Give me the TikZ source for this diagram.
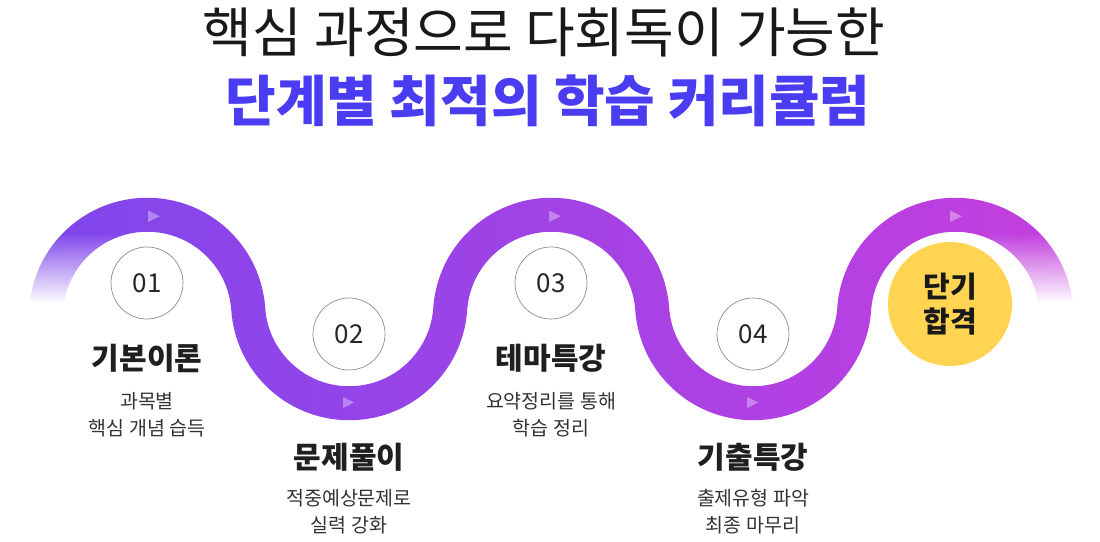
\documentclass[tikz,border=0pt]{standalone}
\usepackage{fontspec}
\setmainfont{Noto Sans CJK KR}
\usetikzlibrary{fadings}
\definecolor{rleft}{HTML}{7E47EC}
\definecolor{rmid}{HTML}{A64FE8}
\definecolor{rright}{HTML}{C53EDE}
\definecolor{titleblue}{HTML}{4A3CF0}
\definecolor{goalyellow}{HTML}{FFD452}
\definecolor{subgray}{HTML}{333333}
\tikzset{
  numc/.style={circle, draw=black!45, fill=white, line width=0.7pt, minimum size=72pt, inner sep=0pt, font=\fontsize{26}{26}\selectfont, text=black!85},
  headtxt/.style={font=\bfseries\fontsize{30}{30}\selectfont, text=black!88},
  subtxt/.style={align=center, font=\fontsize{19.5}{27}\selectfont, text=subgray},
  tri/.style={fill=white, fill opacity=0.35},
  goalc/.style={circle, fill=goalyellow, minimum size=124pt, inner sep=0pt, align=center, font=\bfseries\fontsize{29}{35}\selectfont, text=black!90}
}
\begin{document}
\begin{tikzpicture}[x=1pt,y=1pt]
\useasboundingbox (0,0) rectangle (1100,541);
% ribbon
\shade[left color=rleft, middle color=rmid, right color=rright]
 (29,225) arc[start angle=180, end angle=3.965, radius=118.24pt]
 arc[start angle=183.965, end angle=356.035, radius=84.24pt]
 arc[start angle=176.035, end angle=3.965, radius=118.24pt]
 arc[start angle=183.965, end angle=356.035, radius=84.24pt]
 arc[start angle=176.035, end angle=0, radius=118.24pt]
 -- ++(-34,0)
 arc[start angle=0, end angle=176.035, radius=84.24pt]
 arc[start angle=356.035, end angle=183.965, radius=118.24pt]
 arc[start angle=3.965, end angle=176.035, radius=84.24pt]
 arc[start angle=356.035, end angle=183.965, radius=118.24pt]
 arc[start angle=3.965, end angle=180, radius=84.24pt]
 -- cycle;
% end fades
\fill[white, path fading=north] (16,238) rectangle (112,308);
\fill[white] (16,212) rectangle (112,238.5);
\fill[white, path fading=north] (990,238) rectangle (1086,308);
\fill[white] (990,212) rectangle (1086,238.5);
% small arrows on ribbon
\fill[tri] (148,330.5) -- (148,319) -- (160,324.75) -- cycle;
\fill[tri] (549,330.5) -- (549,319) -- (561,324.75) -- cycle;
\fill[tri] (950,330.5) -- (950,319) -- (962,324.75) -- cycle;
\fill[tri] (343,144) -- (343,133) -- (354,138.5) -- cycle;
\fill[tri] (747,144) -- (747,133) -- (758,138.5) -- cycle;
% titles
\node[font=\fontsize{54}{54}\selectfont, text=black!90] (t1) at (544,509) {핵심 과정으로 다회독이 가능한};
\node[font=\bfseries\fontsize{55}{55}\selectfont, text=titleblue] (t2) at (548,440) {단계별 최적의 학습 커리큘럼};
% step circles
\node[numc] (c1) at (147,258) {01};
\node[numc] (c2) at (349,207) {02};
\node[numc] (c3) at (551,258) {03};
\node[numc] (c4) at (753,207) {04};
\node[goalc] (goal) at (950,237) {단기\\합격};
% headings
\node[headtxt] (h1) at (147,183) {기본이론};
\node[headtxt] (h2) at (349,84) {문제풀이};
\node[headtxt] (h3) at (551,183) {테마특강};
\node[headtxt] (h4) at (753,84) {기출특강};
% sub texts
\node[subtxt] (s1) at (147,126) {과목별\\핵심 개념 습득};
\node[subtxt] (s2) at (349,29.5) {적중예상문제로\\실력 강화};
\node[subtxt] (s3) at (551,126) {요약정리를 통해\\학습 정리};
\node[subtxt] (s4) at (753,29.5) {출제유형 파악\\최종 마무리};
\end{tikzpicture}
\end{document}
